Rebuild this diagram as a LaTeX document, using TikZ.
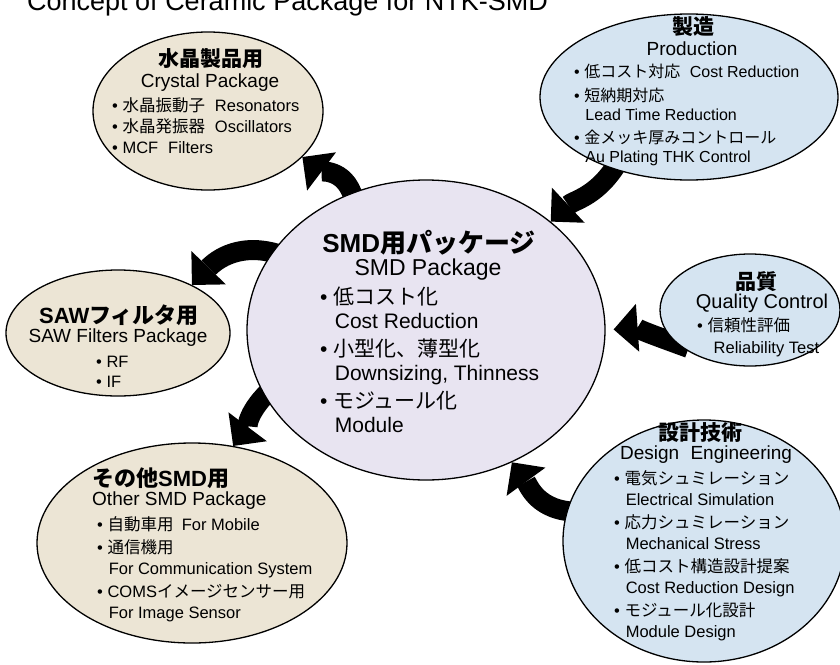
\documentclass[tikz,border=0pt]{standalone}
\usepackage{fontspec}
\setmainfont{Liberation Sans}
\newfontfamily\jp{Noto Sans CJK JP}
\usetikzlibrary{arrows.meta, shapes.geometric, backgrounds}

\definecolor{beige}{RGB}{236,229,213}
\definecolor{lav}{RGB}{232,228,241}
\definecolor{sky}{RGB}{213,228,241}

\newcommand{\fsz}[2]{\fontsize{#1}{#2}\selectfont}
\newcommand{\ind}{\hspace*{0.7em}}

\begin{document}
\begin{tikzpicture}[x=1pt, y=-1pt,
      oval/.style={ellipse, draw, line width=1.3pt, inner sep=0pt},
      hd/.style={font=\fsz{21}{24}\bfseries, inner sep=0pt},
      sub/.style={font=\fsz{19}{22}, inner sep=0pt},
      lst/.style={font=\fsz{16.5}{20.5}, align=left, anchor=north west, inner sep=0pt},
      arr/.style={line width=20pt, -{Triangle[length=24pt, width=48pt, line width=0pt]}, shorten <=-12pt},
    ]
    \useasboundingbox (0,0) rectangle (840,664);

    \node[anchor=base west, inner sep=0pt, font=\fsz{27}{30}] (title) at (27,10) {Concept of Ceramic Package for NTK-SMD};

    \node[oval, fill=beige, minimum width=230pt, minimum height=158pt] (crystal) at (208,111) {};
    \node[oval, fill=sky, minimum width=298pt, minimum height=166pt] (prod) at (689,97) {};
    \node[oval, fill=beige, minimum width=224pt, minimum height=126pt] (saw) at (118,333) {};
    \node[oval, fill=beige, minimum width=310pt, minimum height=200pt] (other) at (192,543) {};
    \node[oval, fill=lav, minimum width=358pt, minimum height=300pt] (smd) at (426,330) {};
    \node[oval, fill=sky, minimum width=180pt, minimum height=112pt] (qual) at (750,310) {};
    \node[oval, fill=sky, minimum width=282pt, minimum height=242pt] (design) at (704,541) {};

    \node[hd] (crystal_hd) at (211,59) {\jp 水晶製品用};
    \node[sub] (crystal_sub) at (210,83) {Crystal Package};
    \node[lst, font=\fsz{16.5}{21}] (crystal_lst) at (112,97) {•~{\jp 水晶振動子}\hspace{0.6em}Resonators\\ •~{\jp 水晶発振器}\hspace{0.6em}Oscillators\\ •~MCF\hspace{0.6em}Filters};

    \node[hd] (prod_hd) at (693,27) {\jp 製造};
    \node[sub] (prod_sub) at (692,49) {Production};
    \node[lst, font=\fsz{16}{19}] (prod_lst) at (574,64) {•~{\jp 低コスト対応}\hspace{0.6em}Cost Reduction\\[5pt] •~{\jp 短納期対応}\\ \ind Lead Time Reduction\\[4pt] •~{\jp 金メッキ厚みコントロール}\\ \ind Au Plating THK Control};

    \node[hd, font=\fsz{22}{24}\bfseries] (saw_hd) at (119,315) {SAW{\jp フィルタ用}};
    \node[sub] (saw_sub) at (118,338) {SAW Filters Package};
    \node[lst, font=\fsz{16.5}{20}] (saw_lst) at (96,356) {•~RF\\ •~IF};

    \node[hd, anchor=west, font=\fsz{22}{24}\bfseries] (other_hd) at (92,478) {{\jp その他}SMD{\jp 用}};
    \node[sub, anchor=west] (other_sub) at (92,501) {Other SMD Package};
    \node[lst] (other_lst) at (97,516) {•~{\jp 自動車用}\hspace{0.5em}For Mobile\\[3pt] •~{\jp 通信機用}\\ \ind For Communication System\\[3pt] •~COMS{\jp イメージセンサー用}\\ \ind For Image Sensor};

    \node[hd, font=\fsz{26}{28}\bfseries] (smd_hd) at (429,243) {SMD{\jp 用パッケージ}};
    \node[sub, font=\fsz{23}{26}] (smd_sub) at (428,270) {SMD Package};
    \node[lst, font=\fsz{21}{24}] (smd_lst) at (320,287) {•~{\jp 低コスト化}\\ \ind Cost Reduction\\[4pt] •~{\jp 小型化、薄型化}\\ \ind Downsizing, Thinness\\[4pt] •~{\jp モジュール化}\\ \ind Module};

    \node[hd] (qual_hd) at (756,282) {\jp 品質};
    \node[sub, font=\fsz{20}{22}] (qual_sub) at (762,303) {Quality Control};
    \node[lst, font=\fsz{16.5}{22}] (qual_lst) at (697,317) {•~{\jp 信頼性評価}\\ \hspace*{1em}Reliability Test};

    \node[hd] (design_hd) at (700,433) {\jp 設計技術};
    \node[sub] (design_sub) at (706,455) {Design\hspace{0.6em}Engineering};
    \node[lst, font=\fsz{16.5}{21}] (design_lst) at (614,470) {•~{\jp 電気シュミレーション}\\ \ind Electrical Simulation\\[2pt] •~{\jp 応力シュミレーション}\\ \ind Mechanical Stress\\[2pt] •~{\jp 低コスト構造設計提案}\\ \ind Cost Reduction Design\\[2pt] •~{\jp モジュール化設計}\\ \ind Module Design};

    \begin{scope}[on background layer]
      \draw[arr] (smd.118) to[out=100, in=-37] (crystal.-26);
      \draw[arr] (prod.224) to[out=240, in=43] (smd.41);
      \draw[arr] (smd.153) to[out=160, in=46] (saw.33);
      \draw[arr] (smd.202) to[out=222, in=53] (other.67);
      \draw[arr, shorten >=8pt] (qual.205) to[out=160, in=4] (smd.0);
      \draw[arr] (design.168) to[out=180, in=-54] (smd.-57);
    \end{scope}
  \end{tikzpicture}
\end{document}
